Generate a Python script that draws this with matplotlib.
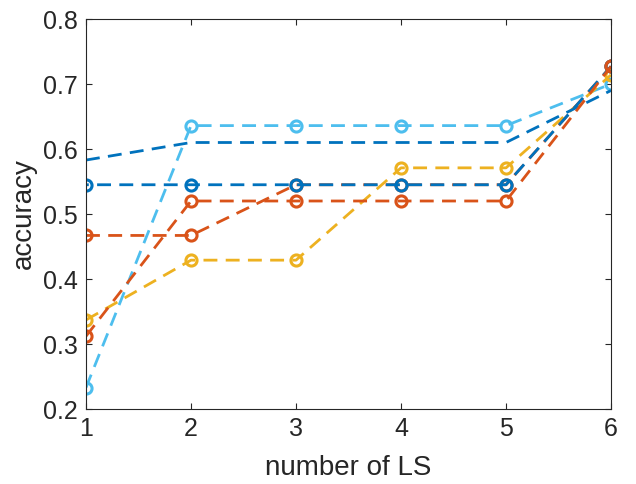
import matplotlib
matplotlib.use("Agg")
import matplotlib.pyplot as plt

# number of LS on the x axis
n_ls = [1, 2, 3, 4, 5, 6]

# accuracy curves
blue_plain = [0.583, 0.610, 0.610, 0.610, 0.610, 0.690]
blue_mark = [0.545, 0.545, 0.545, 0.545, 0.545, 0.727]
orange_a = [0.467, 0.467, 0.545, 0.545, 0.545, 0.727]
orange_b = [0.312, 0.520, 0.520, 0.520, 0.520, 0.727]
yellow = [0.337, 0.429, 0.429, 0.571, 0.571, 0.714]
light_blue = [0.233, 0.636, 0.636, 0.636, 0.636, 0.700]

c_blue = '#0072BD'
c_orange = '#D95319'
c_yellow = '#EDB120'
c_light = '#4DBEEE'

plt.rcParams['font.family'] = ['Liberation Sans', 'DejaVu Sans']

fig = plt.figure(figsize=(6.36, 4.84), dpi=100)
ax = fig.add_axes([86 / 636, 1 - 409 / 484, (611 - 86) / 636, (409 - 19) / 484])

lw = 2.0
ls_a = (0, (5.0, 3.0))
ls_b = (4.0, (5.0, 3.0))
mk = dict(marker='o', markersize=8, markerfacecolor='none', markeredgewidth=2.2)

ax.plot(n_ls, light_blue, color=c_light, lw=lw, ls=ls_a, **mk)
ax.plot(n_ls, yellow, color=c_yellow, lw=lw, ls=ls_a, **mk)
ax.plot(n_ls, orange_a, color=c_orange, lw=lw, ls=ls_a, **mk)
ax.plot(n_ls, blue_plain, color=c_blue, lw=lw, ls=ls_a)
ax.plot(n_ls, blue_mark, color=c_blue, lw=lw, ls=ls_b, **mk)
ax.plot(n_ls, orange_b, color=c_orange, lw=lw, ls=ls_a, **mk)

ax.set_xlim(1, 6)
ax.set_ylim(0.2, 0.8)
ax.set_xticks(n_ls)
ax.set_yticks([0.2, 0.3, 0.4, 0.5, 0.6, 0.7, 0.8])
ax.set_yticklabels(['0.2', '0.3', '0.4', '0.5', '0.6', '0.7', '0.8'])

for s in ax.spines.values():
    s.set_color('#262626')
    s.set_linewidth(0.8)
ax.tick_params(direction='in', length=4, width=0.8, color='#262626',
               labelsize=18, labelcolor='#262626', top=True, right=True, pad=6)

ax.set_xlabel('number of LS', fontsize=20, color='#262626', labelpad=10)
ax.set_ylabel('accuracy', fontsize=20, color='#262626', labelpad=4)

fig.savefig('out.png', dpi=100)
